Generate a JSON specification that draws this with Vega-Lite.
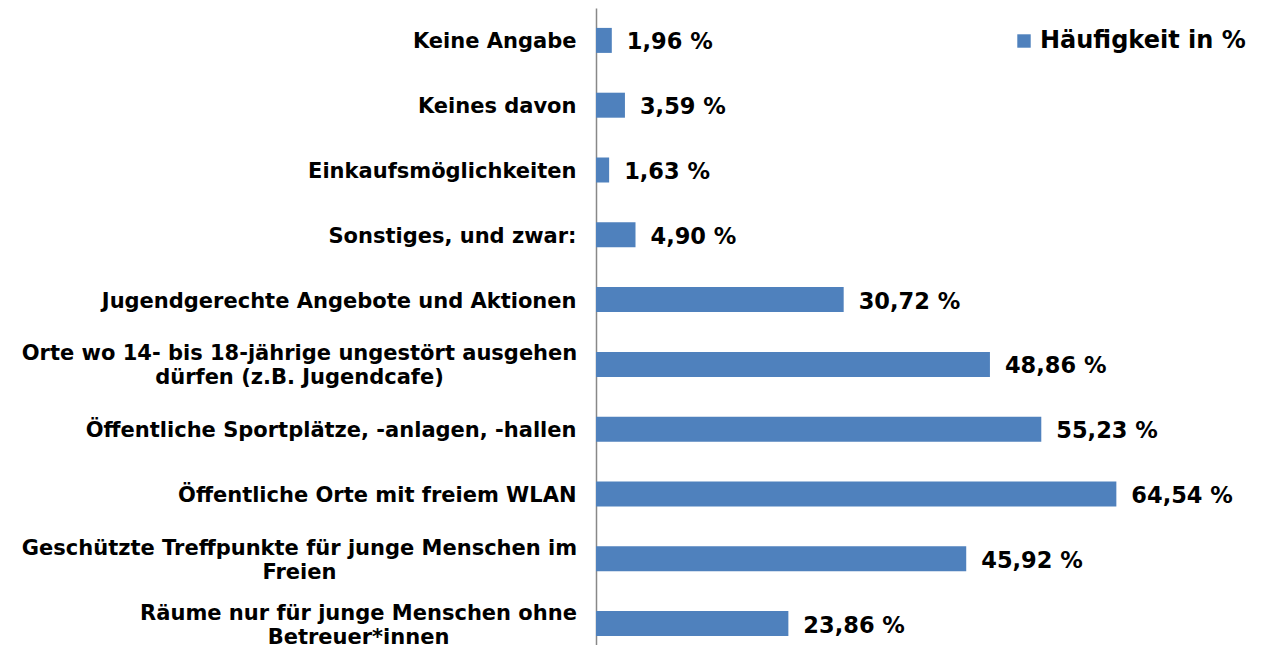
{
  "$schema": "https://vega.github.io/schema/vega-lite/v6.json",
  "width": 645,
  "height": 648,
  "autosize": "none",
  "padding": {"left": 596, "top": 8, "right": 22, "bottom": 0},
  "background": "white",
  "config": {"view": {"stroke": null}},
  "data": {
    "values": [
      {"Kategorie": "Keine Angabe", "Wert": 1.96},
      {"Kategorie": "Keines davon", "Wert": 3.59},
      {"Kategorie": "Einkaufsmöglichkeiten", "Wert": 1.63},
      {"Kategorie": "Sonstiges, und zwar:", "Wert": 4.90},
      {"Kategorie": "Jugendgerechte Angebote und Aktionen", "Wert": 30.72},
      {"Kategorie": "Orte wo 14- bis 18-jährige ungestört ausgehen|dürfen (z.B. Jugendcafe)", "Wert": 48.86},
      {"Kategorie": "Öffentliche Sportplätze, -anlagen, -hallen", "Wert": 55.23},
      {"Kategorie": "Öffentliche Orte mit freiem WLAN", "Wert": 64.54},
      {"Kategorie": "Geschützte Treffpunkte für junge Menschen im|Freien", "Wert": 45.92},
      {"Kategorie": "Räume nur für junge Menschen ohne|Betreuer*innen", "Wert": 23.86}
    ]
  },
  "transform": [
    {"calculate": "replace(format(datum.Wert, '.2f'), '.', ',') + ' %'", "as": "Beschriftung"}
  ],
  "encoding": {
    "y": {
      "field": "Kategorie",
      "type": "nominal",
      "sort": null,
      "scale": {"paddingInner": 0.61, "paddingOuter": 0.305},
      "axis": {
        "title": null,
        "ticks": false,
        "grid": false,
        "domain": true,
        "domainColor": "#888888",
        "domainWidth": 1.5,
        "labelExpr": "split(datum.label, '|')",
        "labelFont": "DejaVu Sans",
        "labelFontWeight": "bold",
        "labelFontSize": 21,
        "labelColor": "#000000",
        "labelLimit": 0,
        "labelLineHeight": 24,
        "labelAlign": {"condition": {"test": "indexof(datum.value, '|') >= 0", "value": "center"}, "value": "right"},
        "labelOffset": {"condition": {"test": "indexof(datum.value, '|') >= 0", "value": -10}, "value": 2},
        "labelPadding": {"condition": [
          {"test": "indexof(datum.value, 'Räume') === 0", "value": 238},
          {"test": "indexof(datum.value, '|') >= 0", "value": 297}
        ], "value": 20}
      }
    }
  },
  "layer": [
    {
      "mark": {"type": "bar", "size": 25},
      "encoding": {
        "x": {"field": "Wert", "type": "quantitative", "scale": {"domain": [0, 80], "nice": false}, "axis": null},
        "color": {
          "datum": "Häufigkeit in %",
          "type": "nominal",
          "scale": {"range": ["#4F81BD"]},
          "legend": {
            "title": null,
            "orient": "none",
            "legendX": 416,
            "legendY": 21,
            "symbolType": "square",
            "symbolSize": 180,
            "symbolStrokeWidth": 0,
            "labelFont": "DejaVu Sans",
            "labelFontWeight": "bold",
            "labelFontSize": 24,
            "labelColor": "#000000",
            "labelLimit": 0
          }
        }
      }
    },
    {
      "mark": {"type": "text", "align": "left", "baseline": "middle", "dx": 15, "dy": 2, "font": "DejaVu Sans", "fontWeight": "bold", "fontSize": 22.5, "color": "#000000"},
      "encoding": {
        "x": {"field": "Wert", "type": "quantitative"},
        "text": {"field": "Beschriftung"}
      }
    }
  ]
}
